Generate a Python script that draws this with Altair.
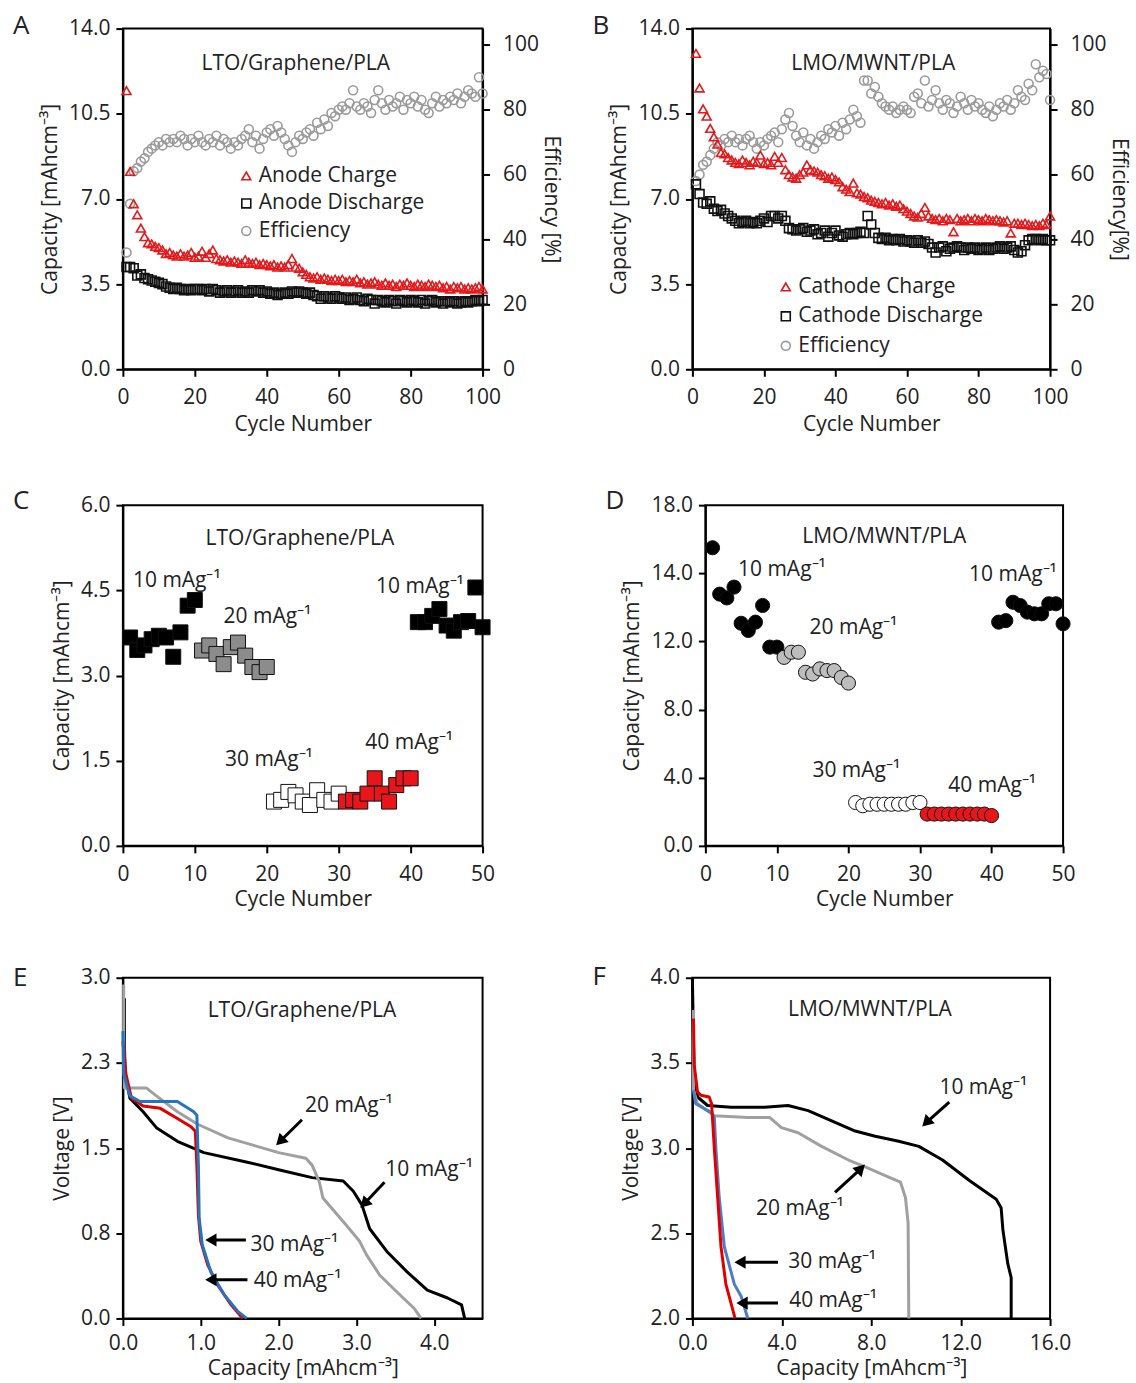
import altair as alt
import pandas as pd

FONT = "Open Sans"
FS = 21
INK = "#222222"
RED = "#E3191C"

# ---------------- Panel A: LTO/Graphene/PLA cycling ----------------
A_CYCLES = list(range(1, 101))
A_CHARGE = [11.45, 8.13, 6.8, 6.35, 5.8, 5.45, 5.2, 5.15, 5.05, 5.0,
            4.9, 4.75, 4.8, 4.7, 4.65, 4.75, 4.65, 4.7, 4.8, 4.6,
            4.65, 4.85, 4.6, 4.75, 4.9, 4.55, 4.5, 4.45, 4.5, 4.4,
            4.45, 4.4, 4.35, 4.5, 4.4, 4.35, 4.4, 4.3, 4.35, 4.3,
            4.25, 4.3, 4.2, 4.25, 4.2, 4.3, 4.55, 4.2, 4.15, 4.0,
            3.9, 3.8, 3.75, 3.8, 3.7, 3.75, 3.7, 3.65, 3.7, 3.65,
            3.7, 3.6, 3.65, 3.6, 3.7, 3.55, 3.6, 3.5, 3.55, 3.6,
            3.5, 3.45, 3.55, 3.45, 3.5, 3.4, 3.5, 3.45, 3.55, 3.45,
            3.4, 3.5, 3.45, 3.4, 3.5, 3.45, 3.4, 3.45, 3.35, 3.4,
            3.3, 3.4, 3.35, 3.4, 3.3, 3.35, 3.3, 3.35, 3.4, 3.3]
A_DISCHARGE = [4.2, 4.2, 4.15, 3.85, 3.9, 3.75, 3.7, 3.65, 3.6, 3.55,
               3.5, 3.4, 3.35, 3.3, 3.35, 3.3, 3.25, 3.3, 3.25, 3.3,
               3.3, 3.25, 3.3, 3.2, 3.3, 3.25, 3.15, 3.2, 3.25, 3.15,
               3.2, 3.25, 3.15, 3.2, 3.15, 3.25, 3.2, 3.25, 3.15, 3.2,
               3.1, 3.15, 3.05, 3.1, 3.15, 3.1, 3.2, 3.15, 3.2, 3.15,
               3.1, 3.15, 3.05, 3.0, 2.9, 3.0, 2.95, 2.9, 3.0, 2.95,
               2.9, 2.95, 2.85, 2.9, 2.95, 2.85, 2.8, 2.9, 2.85, 2.7,
               2.85, 2.8, 2.75, 2.85, 2.8, 2.7, 2.85, 2.8, 2.75, 2.85,
               2.8, 2.75, 2.85, 2.7, 2.8, 2.85, 2.75, 2.8, 2.7, 2.8,
               2.75, 2.8, 2.7, 2.75, 2.8, 2.75, 2.8, 2.85, 2.8, 2.85]
A_EFF = [36, 51, 61, 62, 64, 65, 67, 68, 69, 70,
         69, 71, 70, 71, 70, 72, 71, 69, 71, 70,
         72, 70, 69, 71, 70, 72, 69, 71, 70, 68,
         70, 69, 71, 72, 74, 70, 72, 68, 71, 73,
         74, 72, 75, 73, 71, 69, 67, 70, 72, 71,
         73, 74, 72, 76, 74, 77, 75, 79, 78, 80,
         81, 80, 82, 86, 81, 80, 82, 81, 79, 83,
         86, 82, 80, 83, 81, 82, 84, 80, 83, 82,
         84, 81, 83, 80, 79, 82, 84, 81, 83, 82,
         84, 83, 85, 82, 84, 86, 85, 84, 90, 85]
A_SERIES = ["Anode Charge", "Anode Discharge", "Efficiency"]

# ---------------- Panel B: LMO/MWNT/PLA cycling ----------------
B_CYCLES = list(range(1, 101))
B_CHARGE = [12.98, 11.56, 10.7, 10.4, 9.9, 9.55, 9.25, 8.9, 8.85, 8.7,
            8.6, 8.5, 8.45, 8.6, 8.5, 8.4, 8.55, 8.5, 8.8, 8.45,
            8.5, 8.4, 8.75, 8.5, 8.7, 8.2, 8.0, 7.9, 7.85, 8.0,
            8.1, 8.4, 8.2, 8.15, 8.1, 8.0, 7.95, 7.85, 7.9, 7.8,
            7.7, 7.5, 7.4, 7.3, 7.65, 7.25, 7.2, 7.1, 7.05, 6.95,
            6.9, 6.85, 6.8, 6.85, 6.75, 6.8, 6.7, 6.75, 6.6, 6.5,
            6.4, 6.3, 6.25, 6.4, 6.65, 6.3, 6.2, 6.15, 6.2, 6.1,
            6.2, 6.15, 5.65, 6.2, 6.1, 6.15, 6.2, 6.1, 6.2, 6.15,
            6.1, 6.2, 6.15, 6.1, 6.15, 6.1, 6.05, 6.1, 5.6, 6.0,
            6.0, 5.95, 6.0, 5.95, 5.9, 5.95, 5.9, 6.0, 5.95, 6.3]
B_DISCHARGE = [7.6, 7.2, 6.85, 6.8, 6.9, 6.6, 6.5, 6.55, 6.4, 6.3,
               6.2, 6.1, 6.0, 6.05, 6.1, 6.0, 6.05, 6.0, 6.1, 6.2,
               6.05, 6.3, 6.3, 6.2, 6.3, 6.1, 5.8, 5.75, 5.7, 5.75,
               5.8, 5.65, 5.7, 5.75, 5.55, 5.6, 5.7, 5.45, 5.6, 5.7,
               5.5, 5.45, 5.55, 5.6, 5.55, 5.6, 5.65, 5.6, 6.3, 5.95,
               5.6, 5.4, 5.35, 5.4, 5.3, 5.35, 5.3, 5.35, 5.25, 5.3,
               5.25, 5.2, 5.3, 5.2, 5.25, 5.15, 5.0, 4.8, 5.0, 5.05,
               4.85, 4.95, 5.0, 5.05, 5.0, 4.9, 5.0, 4.95, 5.0, 4.9,
               4.95, 5.0, 4.9, 4.95, 5.0, 5.05, 4.95, 5.0, 5.05, 4.9,
               4.8, 4.85, 5.1, 5.3, 5.35, 5.35, 5.3, 5.35, 5.3, 5.3]
B_EFF = [58, 60, 63, 64, 66, 68, 70, 69, 71, 70,
         72, 70, 71, 69, 71, 72, 70, 68, 70, 69,
         71, 72, 73, 70, 74, 77, 79, 75, 72, 70,
         73, 69, 71, 68, 70, 72, 71, 74, 73, 75,
         72, 76, 74, 77, 80, 78, 76, 89, 89, 85,
         87, 84, 82, 81, 80, 81, 79, 80, 81, 80,
         79, 84, 85, 82, 89, 81, 83, 86, 82, 80,
         83, 82, 79, 81, 84, 82, 80, 83, 81, 82,
         80, 79, 81, 78, 80, 82, 81, 83, 80, 82,
         86, 84, 83, 88, 86, 94, 90, 92, 91, 83]
B_SERIES = ["Cathode Charge", "Cathode Discharge", "Efficiency"]

CAP_TICKS = [0, 3.5, 7, 10.5, 14]
EFF_TICKS = [0, 20, 40, 60, 80, 100]
CYC100_TICKS = [0, 20, 40, 60, 80, 100]
CYC50_TICKS = [0, 10, 20, 30, 40, 50]

# ---------------- Panel C: LTO rate capability ----------------
C_CYCLES = list(range(1, 51))
C_CAP = [3.67, 3.45, 3.53, 3.64, 3.70, 3.67, 3.33, 3.76, 4.23, 4.33,
         3.44, 3.53, 3.38, 3.20, 3.50, 3.58, 3.35, 3.15, 3.06, 3.15,
         0.78, 0.81, 0.95, 0.89, 0.78, 0.72, 0.98, 0.81, 0.78, 0.92,
         0.78, 0.81, 0.78, 0.92, 1.19, 0.92, 0.78, 1.07, 1.19, 1.19,
         3.94, 3.94, 4.05, 4.17, 3.88, 3.79, 3.94, 3.96, 4.55, 3.85]
RATES = ["10", "20", "30", "40"]
C_RATE = ["10"] * 10 + ["20"] * 10 + ["30"] * 10 + ["40"] * 10 + ["10"] * 10
C_FILLS = ["#000000", "#8C8C8C", "#FFFFFF", "#E8161B"]
C_TICKS = [0, 1.5, 3.0, 4.5, 6.0]
C_ANN_TEXT = ["LTO/Graphene/PLA", "10 mAg⁻¹", "20 mAg⁻¹", "10 mAg⁻¹", "30 mAg⁻¹", "40 mAg⁻¹"]
C_ANN_X = [24.6, 7.5, 20.1, 41.3, 20.3, 39.8]
C_ANN_Y = [5.4, 4.67, 4.03, 4.56, 1.51, 1.82]

# ---------------- Panel D: LMO rate capability ----------------
D_CYCLES = list(range(1, 51))
D_CAP = [15.75, 13.3, 13.1, 13.67, 11.76, 11.38, 11.82, 12.7, 10.5, 10.5,
         9.96, 10.23, 10.23, 9.17, 9.08, 9.35, 9.26, 9.26, 8.9, 8.6,
         2.29, 2.12, 2.2, 2.2, 2.2, 2.2, 2.2, 2.2, 2.29, 2.29,
         1.68, 1.68, 1.68, 1.68, 1.68, 1.68, 1.68, 1.68, 1.68, 1.6,
         11.82, 11.9, 12.87, 12.7, 12.35, 12.26, 12.26, 12.79, 12.79, 11.73]
D_RATE = ["10"] * 10 + ["20"] * 10 + ["30"] * 10 + ["40"] * 10 + ["10"] * 10
D_FILLS = ["#000000", "#BDBDBD", "#FFFFFF", "#E8161B"]
D_TICKS = [0, 3.6, 7.2, 10.8, 14.4, 18]
D_TICK_LABELS = ["0.0", "4.0", "8.0", "12.0", "14.0", "18.0"]
D_ANN_TEXT = ["LMO/MWNT/PLA", "10 mAg⁻¹", "20 mAg⁻¹", "10 mAg⁻¹", "30 mAg⁻¹", "40 mAg⁻¹"]
D_ANN_X = [25.0, 10.7, 20.7, 43.0, 21.1, 40.1]
D_ANN_Y = [16.3, 14.55, 11.53, 14.29, 3.97, 3.17]

# ---------------- Panel E: LTO discharge curves ----------------
E_10_CAP = [0.02, 0.02, 0.03, 0.09, 0.26, 0.43, 0.70, 1.04, 1.57, 2.00, 2.43, 2.83, 2.96, 3.07, 3.17, 3.39, 3.65, 3.91, 4.17, 4.35, 4.39]
E_10_V = [2.82, 2.40, 2.15, 1.94, 1.82, 1.68, 1.56, 1.46, 1.38, 1.31, 1.24, 1.21, 1.12, 1.00, 0.79, 0.59, 0.41, 0.25, 0.18, 0.12, 0.00]
E_20_CAP = [0.01, 0.01, 0.02, 0.15, 0.30, 0.43, 0.70, 0.96, 1.35, 2.00, 2.35, 2.43, 2.52, 2.57, 2.87, 3.04, 3.13, 3.30, 3.60, 3.74, 3.83]
E_20_V = [2.94, 2.50, 2.03, 2.03, 2.03, 1.96, 1.82, 1.71, 1.59, 1.46, 1.41, 1.35, 1.21, 1.06, 0.82, 0.68, 0.56, 0.38, 0.18, 0.09, 0.00]
E_30_CAP = [0.00, 0.01, 0.09, 0.22, 0.48, 0.70, 0.91, 0.95, 0.97, 0.98, 1.02, 1.13, 1.30, 1.48, 1.59]
E_30_V = [2.53, 2.15, 1.96, 1.91, 1.91, 1.91, 1.82, 1.79, 1.35, 0.88, 0.65, 0.41, 0.21, 0.06, 0.00]
E_40_CAP = [0.00, 0.04, 0.11, 0.26, 0.48, 0.70, 0.87, 0.93, 0.95, 0.97, 1.00, 1.09, 1.22, 1.39, 1.54]
E_40_V = [2.44, 2.15, 1.94, 1.87, 1.85, 1.76, 1.69, 1.65, 1.35, 0.91, 0.68, 0.47, 0.29, 0.12, 0.00]
E_X_TICKS = [0, 1, 2, 3, 4]
E_Y_TICKS = [0, 0.75, 1.5, 2.25, 3.0]
E_LABEL_TEXT = ["20 mAg⁻¹", "10 mAg⁻¹", "30 mAg⁻¹", "40 mAg⁻¹"]
E_LABEL_X = [2.34, 3.37, 1.64, 1.68]
E_LABEL_Y = [1.87, 1.31, 0.65, 0.33]
E_ARROW_X1 = [2.30, 3.36, 1.58, 1.60]
E_ARROW_Y1 = [1.75, 1.20, 0.69, 0.34]
E_ARROW_X2 = [2.02, 3.10, 1.13, 1.13]
E_ARROW_Y2 = [1.56, 1.01, 0.69, 0.34]
E_ARROW_ANGLE = [225, 225, 270, 270]

# ---------------- Panel F: LMO discharge curves ----------------
F_10_CAP = [0.00, 0.04, 0.08, 0.23, 0.68, 1.73, 3.23, 4.28, 5.18, 6.23, 7.28, 8.18, 9.23, 10.13, 11.19, 12.39, 13.59, 13.81, 13.89, 14.11, 14.26, 14.26]
F_10_V = [4.00, 3.69, 3.43, 3.30, 3.25, 3.24, 3.24, 3.25, 3.22, 3.16, 3.10, 3.07, 3.04, 3.01, 2.93, 2.81, 2.70, 2.65, 2.52, 2.32, 2.24, 2.00]
F_20_CAP = [0.05, 0.05, 0.23, 0.98, 2.48, 3.45, 3.98, 4.73, 5.78, 6.98, 7.73, 8.78, 9.31, 9.53, 9.65, 9.68]
F_20_V = [3.81, 3.34, 3.26, 3.19, 3.18, 3.18, 3.12, 3.09, 3.01, 2.93, 2.89, 2.83, 2.80, 2.71, 2.56, 2.00]
F_30_CAP = [0.05, 0.15, 0.83, 0.98, 1.05, 1.20, 1.43, 1.88, 2.18, 2.48]
F_30_V = [3.34, 3.26, 3.21, 3.18, 3.00, 2.71, 2.42, 2.20, 2.13, 2.00]
F_40_CAP = [0.05, 0.08, 0.23, 0.38, 0.75, 0.86, 0.98, 1.13, 1.28, 1.50, 1.91]
F_40_V = [3.76, 3.49, 3.33, 3.31, 3.30, 3.26, 3.00, 2.71, 2.42, 2.20, 2.00]
F_X_TICKS = [0, 4, 8, 12, 16]
F_Y_TICKS = [2.0, 2.5, 3.0, 3.5, 4.0]
F_LABEL_TEXT = ["10 mAg⁻¹", "20 mAg⁻¹", "30 mAg⁻¹", "40 mAg⁻¹"]
F_LABEL_X = [11.05, 2.85, 4.29, 4.33]
F_LABEL_Y = [3.35, 2.64, 2.33, 2.10]
F_ARROW_X1 = [11.49, 6.38, 3.83, 3.83]
F_ARROW_Y1 = [3.27, 2.74, 2.33, 2.09]
F_ARROW_X2 = [10.46, 7.54, 2.13, 2.22]
F_ARROW_Y2 = [3.15, 2.88, 2.33, 2.09]
F_ARROW_ANGLE = [225, 45, 270, 270]

W = 360
H = 341
WR = 358


def text_chart(text, x, y, size=FS, align="center"):
    return alt.Chart(pd.DataFrame({"t": [text]})).mark_text(
        font=FONT, fontSize=size, align=align, baseline="middle", color=INK
    ).encode(text="t:N", x=alt.value(x), y=alt.value(y))


def cycle_panel(letter, lx, ly, title, tx, ty, cycles, charge, discharge, eff,
                series, legend_x, legend_y, row_pad, eff_title, width):
    n = len(cycles)
    cap_df = pd.DataFrame({
        "cycle": cycles + cycles,
        "value": charge + discharge,
        "series": [series[0]] * n + [series[1]] * n,
    })
    eff_df = pd.DataFrame({"cycle": cycles, "value": eff, "series": [series[2]] * n})
    x = alt.X("cycle:Q", scale=alt.Scale(domain=[0, 100], nice=False),
              axis=alt.Axis(values=CYC100_TICKS, format="d", title="Cycle Number",
                            labelPadding=10, titlePadding=6))
    legend = alt.Legend(orient="none", legendX=legend_x, legendY=legend_y, title=None,
                        labelFont=FONT, labelFontSize=FS, labelColor=INK, labelLimit=400,
                        symbolSize=80, symbolStrokeWidth=1.6, rowPadding=row_pad,
                        labelOffset=2)
    color = alt.Color("series:N", scale=alt.Scale(domain=series, range=[RED, "#111111", "#9A9A9A"]),
                      legend=legend)
    shape = alt.Shape("series:N", scale=alt.Scale(domain=series,
                                                  range=["triangle-up", "square", "circle"]),
                      legend=legend)
    cap = alt.Chart(cap_df).mark_point(filled=False, size=80, strokeWidth=1.6, opacity=1).encode(
        x=x,
        y=alt.Y("value:Q", scale=alt.Scale(domain=[0, 14], nice=False),
                axis=alt.Axis(values=CAP_TICKS, format=".1f", title="Capacity [mAhcm⁻³]")),
        color=color, shape=shape)
    effc = alt.Chart(eff_df).mark_point(filled=False, size=80, strokeWidth=1.6, opacity=1).encode(
        x=x,
        y=alt.Y("value:Q", scale=alt.Scale(domain=[0, 105], nice=False),
                axis=alt.Axis(orient="right", values=EFF_TICKS, format="d", title=eff_title,
                              labelPadding=13, titlePadding=2)),
        color=color, shape=shape)
    return alt.layer(
        effc, cap, text_chart(title, tx, ty), text_chart(letter, lx, ly, 26, "left")
    ).resolve_scale(y="independent").properties(width=width, height=H)


def rate_panel(letter, lx, ly, cycles, caps, rates, fills, ymax, yticks, ylabel_expr,
               ann_text, ann_x, ann_y, mark, size, width):
    df = pd.DataFrame({"cycle": cycles, "cap": caps, "rate": rates})
    ann = pd.DataFrame({"cycle": ann_x, "cap": ann_y, "t": ann_text})
    x = alt.X("cycle:Q", scale=alt.Scale(domain=[0, 50], nice=False),
              axis=alt.Axis(values=CYC50_TICKS, format="d", title="Cycle Number",
                            labelPadding=11, titlePadding=4))
    yaxis = alt.Axis(values=yticks, format=".1f", title="Capacity [mAhcm⁻³]")
    if ylabel_expr:
        yaxis = alt.Axis(values=yticks, labelExpr=ylabel_expr, title="Capacity [mAhcm⁻³]")
    y = alt.Y("cap:Q", scale=alt.Scale(domain=[0, ymax], nice=False), axis=yaxis)
    fill = alt.Fill("rate:N", scale=alt.Scale(domain=RATES, range=fills), legend=None)
    if mark == "square":
        base = alt.Chart(df).mark_square(size=size, stroke="#111111", strokeWidth=1, opacity=1)
    else:
        base = alt.Chart(df).mark_circle(size=size, stroke="#111111", strokeWidth=1, opacity=1)
    pts = base.encode(x=x, y=y, fill=fill)
    txt = alt.Chart(ann).mark_text(font=FONT, fontSize=FS, align="center", baseline="middle",
                                   color=INK).encode(x=x, y=y, text="t:N")
    return alt.layer(pts, txt, text_chart(letter, lx, ly, 26, "left")).properties(
        width=width, height=H)


def curve_panel(letter, lx, ly, title, title_x, title_y, curves, xdom, xticks, ydom, yticks,
                lab_text, lab_x, lab_y, ax1, ay1, ax2, ay2, angles, width):
    x = alt.X("cap:Q", scale=alt.Scale(domain=xdom, nice=False),
              axis=alt.Axis(values=xticks, format=".1f", title="Capacity [mAhcm⁻³]",
                            labelPadding=7, titlePadding=4))
    y = alt.Y("volt:Q", scale=alt.Scale(domain=ydom, nice=False),
              axis=alt.Axis(values=yticks, format=".1f", title="Voltage [V]"))
    layers = []
    for caps, volts, col in curves:
        df = pd.DataFrame({"cap": caps, "volt": volts, "i": list(range(len(caps)))})
        layers.append(alt.Chart(df).mark_line(color=col, strokeWidth=3, strokeJoin="round").encode(
            x=x, y=y, order="i:Q"))
    rule_df = pd.DataFrame({"cap": ax1, "volt": ay1, "cap2": ax2, "volt2": ay2})
    layers.append(alt.Chart(rule_df).mark_rule(color="#000000", strokeWidth=3).encode(
        x=x, y=y, x2="cap2:Q", y2="volt2:Q"))
    head_df = pd.DataFrame({"cap": ax2, "volt": ay2, "ang": angles})
    layers.append(alt.Chart(head_df).mark_point(shape="triangle-up", filled=True, size=170,
                                                color="#000000", opacity=1).encode(
        x=x, y=y, angle=alt.Angle("ang:Q", scale=None)))
    lab_df = pd.DataFrame({"cap": lab_x, "volt": lab_y, "t": lab_text})
    layers.append(alt.Chart(lab_df).mark_text(font=FONT, fontSize=FS, align="left",
                                              baseline="middle", color=INK).encode(
        x=x, y=y, text="t:N"))
    tdf = pd.DataFrame({"cap": [title_x], "volt": [title_y], "t": [title]})
    layers.append(alt.Chart(tdf).mark_text(font=FONT, fontSize=FS, align="center",
                                           baseline="middle", color=INK).encode(
        x=x, y=y, text="t:N"))
    layers.append(text_chart(letter, lx, ly, 26, "left"))
    return alt.layer(*layers).properties(width=width, height=H)


A = cycle_panel("A", -110, -3, "LTO/Graphene/PLA", 173, 35, A_CYCLES, A_CHARGE, A_DISCHARGE,
                A_EFF, A_SERIES, 113, 137, 5.5, "Efficiency [%]", W)
B = cycle_panel("B", -100, -3, "LMO/MWNT/PLA", 181, 35, B_CYCLES, B_CHARGE, B_DISCHARGE,
                B_EFF, B_SERIES, 83, 248, 7.5, "Efficiency[%]", WR)

d_expr = "[" + ",".join("'" + s + "'" for s in D_TICK_LABELS) + "][round(datum.value / 3.6)]"
C = rate_panel("C", -110, -4, C_CYCLES, C_CAP, C_RATE, C_FILLS, 6, C_TICKS, None,
               C_ANN_TEXT, C_ANN_X, C_ANN_Y, "square", 225, W)
D = rate_panel("D", -100, -4, D_CYCLES, D_CAP, D_RATE, D_FILLS, 18, D_TICKS, d_expr,
               D_ANN_TEXT, D_ANN_X, D_ANN_Y, "circle", 200, WR)

E = curve_panel("E", -110, 0, "LTO/Graphene/PLA", 2.30, 2.71,
                [(E_10_CAP, E_10_V, "#000000"), (E_20_CAP, E_20_V, "#A0A0A0"),
                 (E_40_CAP, E_40_V, "#E00000"), (E_30_CAP, E_30_V, "#2474C0")],
                [0, 4.62], E_X_TICKS, [0, 3], E_Y_TICKS,
                E_LABEL_TEXT, E_LABEL_X, E_LABEL_Y, E_ARROW_X1, E_ARROW_Y1,
                E_ARROW_X2, E_ARROW_Y2, E_ARROW_ANGLE, W)
F = curve_panel("F", -100, -1, "LMO/MWNT/PLA", 7.94, 3.81,
                [(F_10_CAP, F_10_V, "#000000"), (F_20_CAP, F_20_V, "#A0A0A0"),
                 (F_30_CAP, F_30_V, "#4A7EC7"), (F_40_CAP, F_40_V, "#E00000")],
                [0, 16], F_X_TICKS, [2, 4], F_Y_TICKS,
                F_LABEL_TEXT, F_LABEL_X, F_LABEL_Y, F_ARROW_X1, F_ARROW_Y1,
                F_ARROW_X2, F_ARROW_Y2, F_ARROW_ANGLE, WR)

IND = dict(color="independent", shape="independent", fill="independent")
row1 = alt.hconcat(A, B, spacing=28).resolve_scale(**IND)
row2 = alt.hconcat(C, D, spacing=108).resolve_scale(**IND)
row3 = alt.hconcat(E, F, spacing=108).resolve_scale(**IND)

chart = alt.vconcat(row1, row2, row3, spacing=52).resolve_scale(**IND).properties(
    padding={"left": 12, "top": 11, "right": 5, "bottom": 2}, background="white"
).configure_view(
    stroke="#000000", strokeWidth=2
).configure_axis(
    labelFont=FONT, titleFont=FONT, labelFontSize=FS, titleFontSize=FS,
    labelColor=INK, titleColor=INK, titleFontWeight="normal",
    domainColor="#000000", domainWidth=2, tickColor="#000000", tickWidth=2, tickSize=7,
    grid=False, labelPadding=6, titlePadding=8, labelFlush=False, labelOverlap=False
).configure_axisBottom(
    labelPadding=12, titlePadding=4
)

chart.save("out.html", embed_options={"renderer": "svg", "actions": False})
